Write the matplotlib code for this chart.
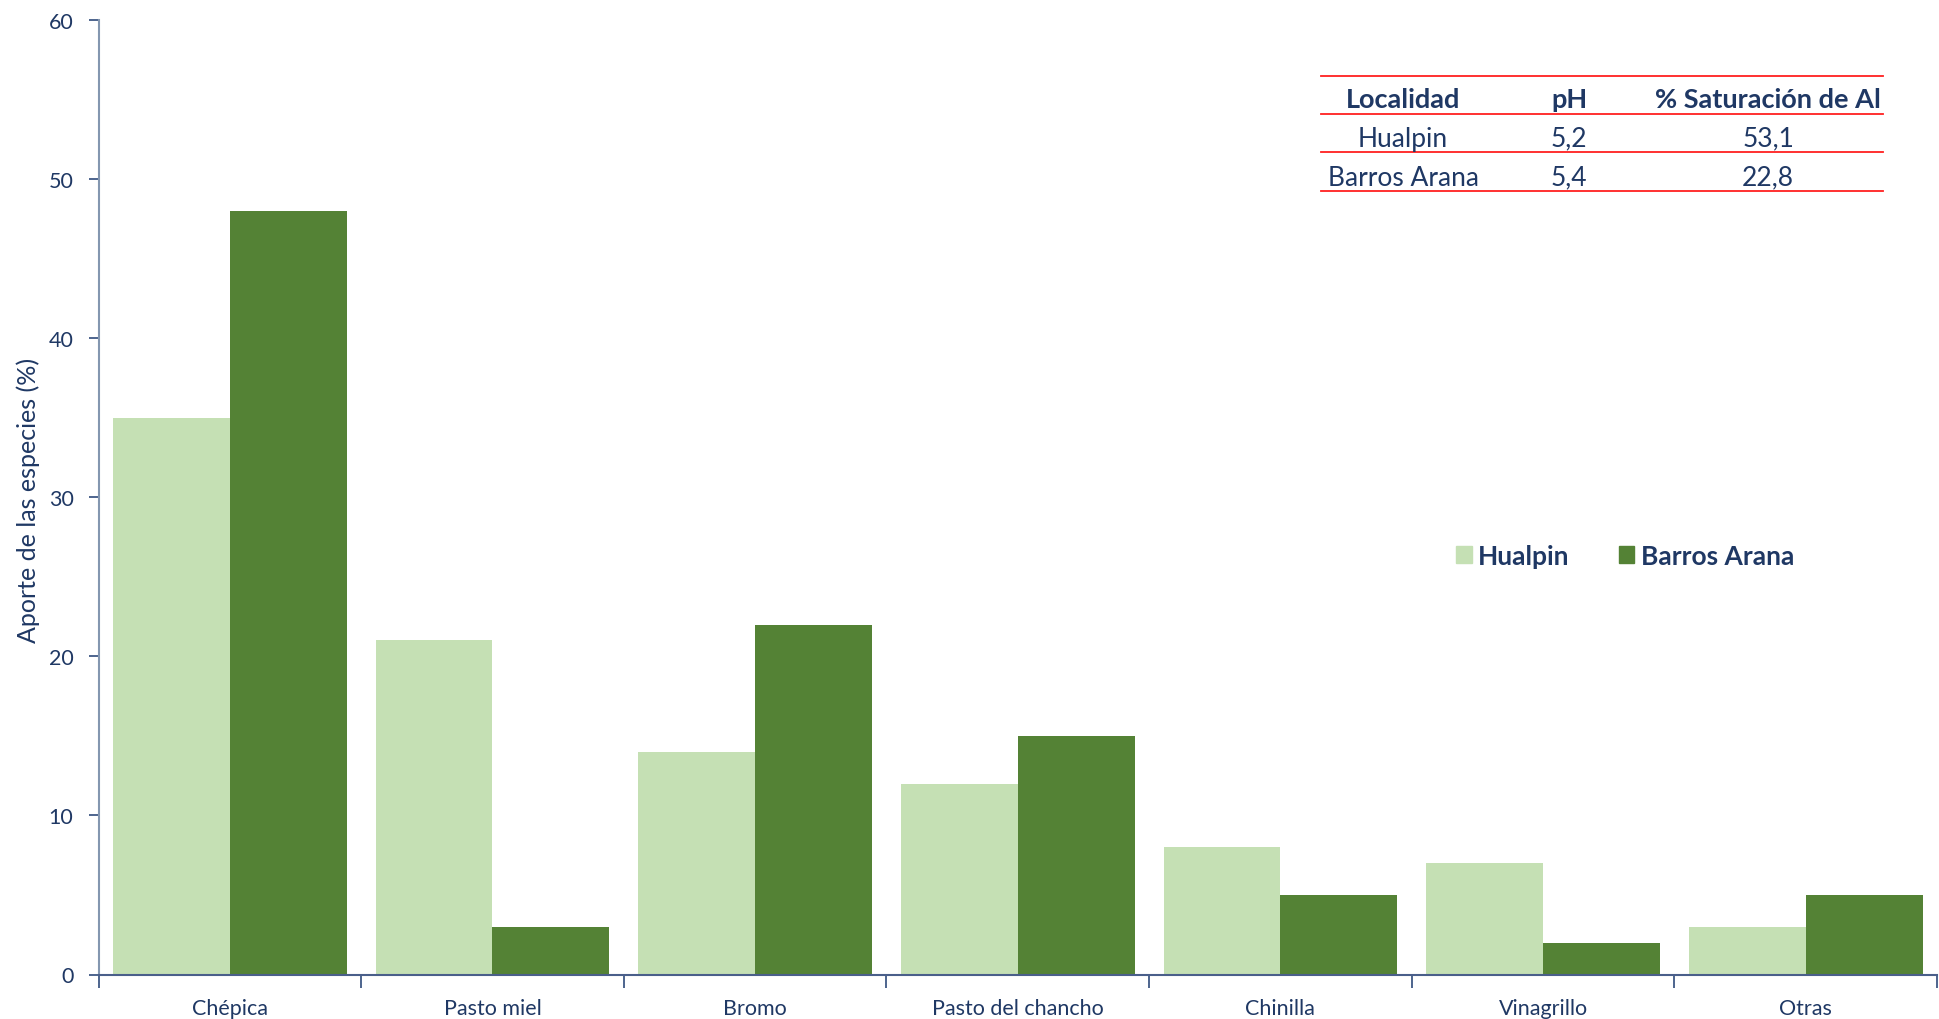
# -*- coding: utf-8 -*-

import matplotlib
matplotlib.use("Agg")
import matplotlib.pyplot as plt
import matplotlib.patches as mpatches
from matplotlib.lines import Line2D
import numpy as np

OUTPUT_PATH = "out.png"

species = ["Chépica", "Pasto miel", "Bromo", "Pasto del chancho", "Chinilla", "Vinagrillo", "Otras"]
hualpin = [35, 21, 14, 12, 8, 7, 3]
barros_arana = [48, 3, 22, 15, 5, 2, 5]

table_header = ["Localidad", "pH", "% Saturación de Al"]
table_rows = [
    ["Hualpin", "5,2", "53,1"],
    ["Barros Arana", "5,4", "22,8"],
]

TEXT_COLOR = "#1F3864"
LIGHT_GREEN = "#C5E0B4"
DARK_GREEN = "#548235"
RED = "#FF2020"

plt.rcParams["font.family"] = ["Lato", "DejaVu Sans"]


def plot_chart(save_path):
    W, H = 1939, 1020
    fig = plt.figure(figsize=(W / 100, H / 100), dpi=100)
    ax = fig.add_axes([98.5 / W, 1 - 975.5 / H, (1937 - 98.5) / W, (975.5 - 21) / H])

    x = np.arange(len(species))
    width = 0.445
    ax.bar(x - width / 2, hualpin, width=width, color=LIGHT_GREEN, label="Hualpin")
    ax.bar(x + width / 2, barros_arana, width=width, color=DARK_GREEN, label="Barros Arana")

    ax.set_xlim(-0.5, len(species) - 0.5)
    ax.set_ylim(0, 60)
    ax.set_yticks(range(0, 61, 10))

    ax.set_xticks(x)
    ax.set_xticklabels(species)
    ax.set_xticks(np.arange(-0.5, len(species), 1.0), minor=True)
    ax.tick_params(axis="x", which="major", length=0, pad=17, labelsize=15.5, labelcolor=TEXT_COLOR)
    ax.tick_params(axis="x", which="minor", length=9, width=1.2, color="#2F4A7A", direction="out")
    ax.tick_params(axis="y", length=7, width=1.2, color="#2F4A7A", pad=11, labelsize=15.5, labelcolor=TEXT_COLOR)

    for side in ["top", "right"]:
        ax.spines[side].set_visible(False)
    ax.spines["left"].set_color("#8497B0")
    ax.spines["left"].set_linewidth(1.5)
    ax.spines["bottom"].set_color("#4A5F8A")
    ax.spines["bottom"].set_linewidth(1.5)

    fig.text(28 / W, 1 - 500 / H, "Aporte de las especies (%)", rotation=90, ha="center", va="center",
             fontsize=18, color=TEXT_COLOR)

    # legend
    handles = [mpatches.Patch(color=LIGHT_GREEN, label="Hualpin"),
               mpatches.Patch(color=DARK_GREEN, label="Barros Arana")]
    fig.legend(handles=handles, loc="center left", bbox_to_anchor=(1432 / W, 1 - 557 / H), ncol=2,
               frameon=False, prop={"weight": "bold", "size": 19}, labelcolor=TEXT_COLOR,
               handlelength=0.6, handleheight=0.6, handletextpad=0.25, columnspacing=1.85)

    # small table with soil data
    x0, x1 = 1321 / W, 1883 / W
    for yl in [77, 115, 153, 192]:
        fig.add_artist(Line2D([x0, x1], [1 - yl / H, 1 - yl / H], color=RED, linewidth=1.3))
    col_x = [1403, 1569, 1768]
    fig_y = [100, 139, 178]
    for cx, txt in zip(col_x, table_header):
        fig.text(cx / W, 1 - fig_y[0] / H, txt, ha="center", va="center", fontsize=19.5,
                 fontweight="bold", color=TEXT_COLOR)
    for row, ry in zip(table_rows, fig_y[1:]):
        for cx, txt in zip(col_x, row):
            fig.text(cx / W, 1 - ry / H, txt, ha="center", va="center", fontsize=19, color=TEXT_COLOR)

    plt.savefig(save_path, dpi=100)
    plt.close(fig)


def main():
    plot_chart(OUTPUT_PATH)


if __name__ == "__main__":
    main()
